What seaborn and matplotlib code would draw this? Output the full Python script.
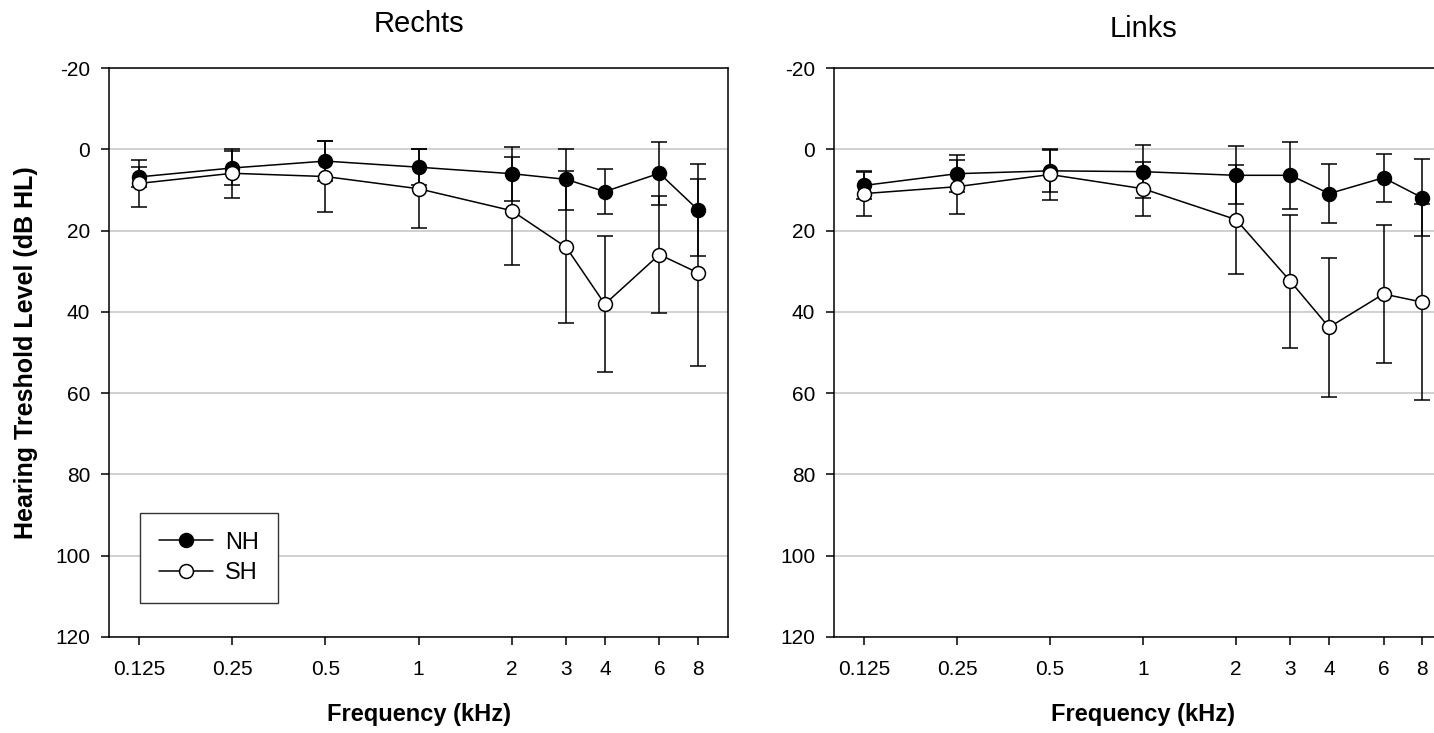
import matplotlib
matplotlib.use("Agg")
import matplotlib.pyplot as plt
from matplotlib.ticker import NullLocator
import seaborn as sns
import pandas as pd

freqs = [0.125, 0.25, 0.5, 1, 2, 3, 4, 6, 8]
freq_labels = ["0.125", "0.25", "0.5", "1", "2", "3", "4", "6", "8"]

# Rechts
rechts_nh = [6.8, 4.6, 2.9, 4.4, 6.0, 7.4, 10.4, 5.9, 14.9]
rechts_nh_sd = [2.5, 4.1, 4.9, 4.4, 6.6, 7.5, 5.5, 7.8, 11.3]
rechts_sh = [8.4, 5.9, 6.7, 9.7, 15.1, 24.1, 38.1, 25.9, 30.4]
rechts_sh_sd = [5.7, 6.0, 8.8, 9.7, 13.3, 18.7, 16.7, 14.5, 23.0]

# Links
links_nh = [8.9, 6.0, 5.3, 5.5, 6.4, 6.4, 10.9, 7.0, 11.9]
links_nh_sd = [3.4, 4.6, 5.1, 6.5, 7.1, 8.2, 7.3, 5.9, 9.5]
links_sh = [10.9, 9.2, 6.2, 9.7, 17.3, 32.5, 43.8, 35.6, 37.6]
links_sh_sd = [5.5, 6.6, 6.2, 6.6, 13.4, 16.3, 17.1, 16.9, 24.2]

sns.set_style("white")
plt.rcParams["font.family"] = ["Liberation Sans", "DejaVu Sans"]
plt.rcParams["axes.unicode_minus"] = False
plt.rcParams["text.color"] = "black"
plt.rcParams["axes.labelcolor"] = "black"


def draw_panel(ax, nh, nh_sd, sh, sh_sd):
    df = pd.DataFrame({"freq": freqs, "nh": nh, "nh_sd": nh_sd, "sh": sh, "sh_sd": sh_sd})

    for col in ["nh", "sh"]:
        ax.errorbar(df["freq"], df[col], yerr=df[col + "_sd"], fmt="none",
                    ecolor="black", elinewidth=1.1, capsize=5.5, capthick=1.1, zorder=2)

    sns.lineplot(data=df, x="freq", y="nh", ax=ax, color="black", linewidth=1.1,
                 marker="o", markersize=10, markerfacecolor="black",
                 markeredgecolor="black", markeredgewidth=1.1, label="NH", zorder=3)
    sns.lineplot(data=df, x="freq", y="sh", ax=ax, color="black", linewidth=1.1,
                 marker="o", markersize=10, markerfacecolor="white",
                 markeredgecolor="black", markeredgewidth=1.1, label="SH", zorder=3)

    ax.set_xscale("log", base=2)
    ax.set_xlim(0.1, 10)
    ax.set_xticks(freqs)
    ax.set_xticklabels(freq_labels)
    ax.xaxis.set_minor_locator(NullLocator())
    ax.set_ylim(120, -20)
    ax.set_yticks(range(-20, 121, 20))
    ax.yaxis.grid(True, color="#c8c8c8", linewidth=1.2)
    ax.xaxis.grid(False)
    ax.set_axisbelow(True)

    for s in ax.spines.values():
        s.set_color("black")
        s.set_linewidth(1.1)
    ax.tick_params(axis="both", direction="out", length=5.5, width=1.1,
                   labelsize=15, pad=8, colors="black", left=True, bottom=True)
    ax.tick_params(axis="x", pad=11)

    ax.set_xlabel("Frequency (kHz)", fontsize=17, fontweight="bold", labelpad=17)
    ax.set_ylabel("")
    if ax.get_legend() is not None:
        ax.get_legend().remove()


fig = plt.figure(figsize=(14.34, 7.33), dpi=100)
ax1 = fig.add_axes([0.0760, 0.1310, 0.4317, 0.7762])
ax2 = fig.add_axes([0.5816, 0.1310, 0.4310, 0.7762])

draw_panel(ax1, rechts_nh, rechts_nh_sd, rechts_sh, rechts_sh_sd)
draw_panel(ax2, links_nh, links_nh_sd, links_sh, links_sh_sd)

ax1.set_title("Rechts", fontsize=21, pad=26)
ax2.set_title("Links", fontsize=21, pad=22)

ax1.set_ylabel("Hearing Treshold Level (dB HL)", fontsize=18, fontweight="bold")
ax1.yaxis.set_label_coords(-0.115, 0.5)

leg = ax1.legend(loc="lower left", bbox_to_anchor=(0.05, 0.06), borderaxespad=0,
                 fontsize=17, frameon=True, fancybox=False, edgecolor="#333333",
                 framealpha=1, handlelength=2.3, handletextpad=0.5,
                 labelspacing=0.35, borderpad=0.8)
leg.get_frame().set_linewidth(1.0)

fig.savefig("out.png", dpi=100)
